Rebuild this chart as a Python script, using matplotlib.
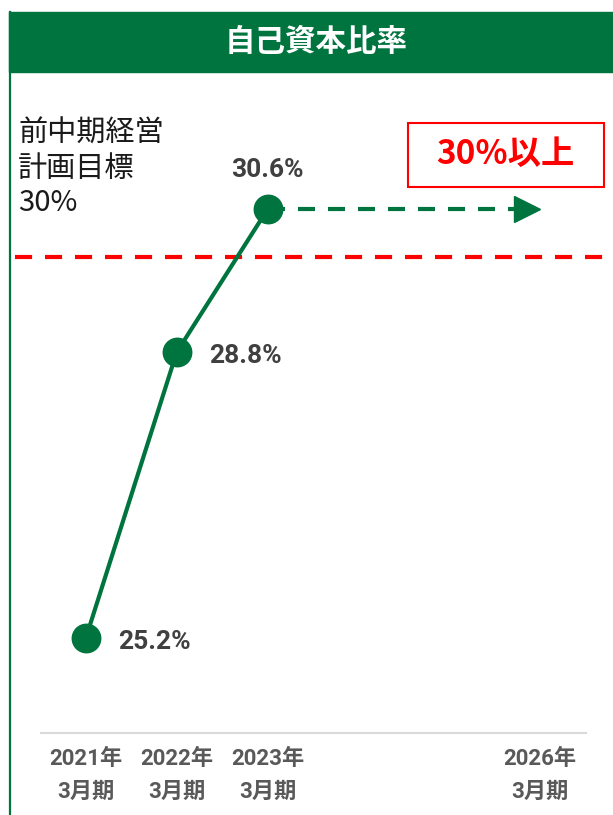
import matplotlib
matplotlib.use('Agg')
import matplotlib.pyplot as plt
import matplotlib.transforms as mtransforms
from matplotlib import font_manager
from matplotlib.patches import Rectangle
from matplotlib.lines import Line2D

# 自己資本比率の推移
years = [2021, 2022, 2023]
ratios = [25.2, 28.8, 30.6]
target_year = 2026
prev_target = 30.0          # 前中期経営計画目標
tick_years = [2021, 2022, 2023, 2026]
tick_labels = ['2021年\n3月期', '2022年\n3月期', '2023年\n3月期', '2026年\n3月期']

GREEN = '#00743E'
RED = '#FF0000'

installed = {f.name for f in font_manager.fontManager.ttflist}
narrow = 'Liberation Sans Narrow' if 'Liberation Sans Narrow' in installed else 'Roboto'
num_font = [narrow, 'Noto Sans CJK JP', 'DejaVu Sans']
jp_font = ['Noto Sans CJK JP', 'DejaVu Sans']
plt.rcParams['font.family'] = jp_font

W, H = 613, 815
fig = plt.figure(figsize=(W / 100, H / 100), dpi=100)

# axes placed in pixel terms
ax = fig.add_axes([40.5 / W, (H - 733) / H, 545 / W, (733 - 72) / H])
ax.patch.set_visible(False)
ax.set_xlim(2020.5, 2026.5)
ax.set_ylim(24.0, 32.33)
for s in ['left', 'right', 'top']:
    ax.spines[s].set_visible(False)
ax.spines['bottom'].set_color('#D9D9D9')
ax.spines['bottom'].set_linewidth(1.5)
ax.set_yticks([])
ax.set_xticks(tick_years)
ax.set_xticklabels(tick_labels, family=num_font, fontweight='bold',
                   fontsize=16, color='#595959', linespacing=1.6)
ax.tick_params(axis='x', length=0, pad=11)

# previous target line
ax.axhline(prev_target, xmin=-0.047, xmax=1.06, color=RED, lw=3,
           linestyle=(0, (4.1, 3.1)), clip_on=False, zorder=1)

# actual values
ax.plot(years, ratios, color=GREEN, lw=3, marker='o', markersize=20.5,
        zorder=3, clip_on=False)

# dashed arrow towards the 2026 target
ax.plot([years[-1], target_year - 0.15], [ratios[-1], ratios[-1]], color=GREEN,
        lw=3, linestyle=(0, (4.08, 3.12)), zorder=2)
head_tr = mtransforms.offset_copy(ax.transData, fig=fig, x=-13, y=0, units='dots')
ax.plot([target_year], [ratios[-1]], marker='>', markersize=18.7, color=GREEN,
        transform=head_tr, zorder=2, clip_on=False)

# value labels
label_pos = [((23, -8), 'left'), ((23, -8), 'left'), ((0, 23), 'center')]
for x, y, (off, ha) in zip(years, ratios, label_pos):
    ax.annotate(f'{y:.1f}%', (x, y), xytext=off, textcoords='offset points',
                ha=ha, va='baseline', family=num_font, fontweight='bold',
                fontsize=19, color='#404040')

# header bar and left border
fig.patches.append(Rectangle((9 / W, (H - 72) / H), 1 - 9 / W, 60 / H,
                             transform=fig.transFigure, color=GREEN, zorder=5))
fig.lines.append(Line2D([10 / W, 10 / W], [0, (H - 12) / H],
                        transform=fig.transFigure, color=GREEN, lw=1.6, zorder=5))
fig.text(316 / W, 1 - 42 / H, '自己資本比率', color='white', fontsize=22,
         fontweight='bold', ha='center', va='center', zorder=6)

# previous plan target note
fig.text(18 / W, 1 - 119 / H, '前中期経営\n計画目標\n30%', color='#1A1A1A',
         fontsize=21, ha='left', va='top', linespacing=1.2)

# new target box
fig.patches.append(Rectangle((408 / W, (H - 187) / H), 196 / W, 64 / H,
                             transform=fig.transFigure, fc='white', ec=RED,
                             lw=1.5, zorder=5))
fig.text(505 / W, 1 - 154 / H, '30%以上', color=RED, fontsize=24,
         fontweight='bold', ha='center', va='center', zorder=6)

fig.savefig('out.png', dpi=100)
